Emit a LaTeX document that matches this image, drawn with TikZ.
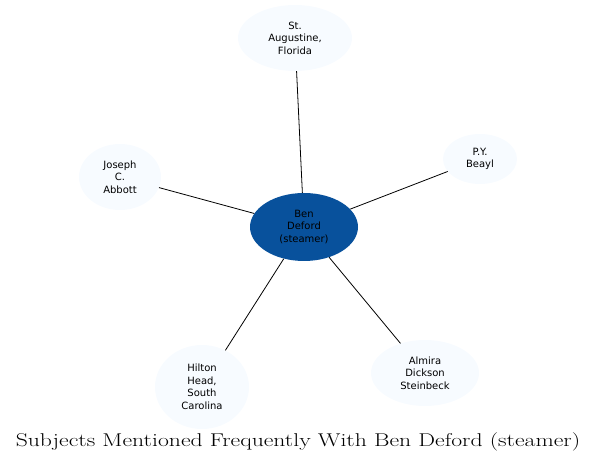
\documentclass[tikz,border=0pt]{standalone}
\usepackage{fontspec}
\newfontfamily\nodefont{DejaVu Sans}
\usetikzlibrary{shapes.geometric}
\definecolor{hub}{RGB}{8,81,156}
\definecolor{leaf}{RGB}{247,251,255}

\begin{document}
\begin{tikzpicture}[
  x=1pt, y=1pt,
  subj/.style={ellipse, draw=none, fill=leaf, inner sep=0pt, align=center, font=\nodefont\fontsize{10}{12.5}\selectfont},
  core/.style={subj, fill=hub},
  link/.style={line width=0.8pt, black},
]
\useasboundingbox (0,0) rectangle (597,465);

% ---- the hub ----
\node[core, minimum width=108, minimum height=68] (BEN) at (304,238) {Ben\\Deford\\(steamer)};

% ---- the subjects round it ----
\node[subj, minimum width=114, minimum height=66] (STA) at (295,427) {St.\\Augustine,\\Florida};
\node[subj, minimum width=74, minimum height=50] (PYB) at (480,306) {P.Y.\\Beayl};
\node[subj, minimum width=82, minimum height=66] (JCA) at (120,288) {Joseph\\C.\\Abbott};
\node[subj, minimum width=94, minimum height=84] (HHS) at (202,78) {Hilton\\Head,\\South\\Carolina};
\node[subj, minimum width=108, minimum height=66] (ADS) at (425,92) {Almira\\Dickson\\Steinbeck};

% ---- spokes ----
\foreach \s in {STA,PYB,JCA,HHS,ADS}
  \draw[link] (BEN) -- (\s);

% ---- title ----
\node[anchor=base, font=\fontsize{18.5}{22}\selectfont] (TTL) at (298,18)
  {\scalebox{1.28}[1]{Subjects Mentioned Frequently With Ben Deford (steamer)}};

\end{tikzpicture}
\end{document}
